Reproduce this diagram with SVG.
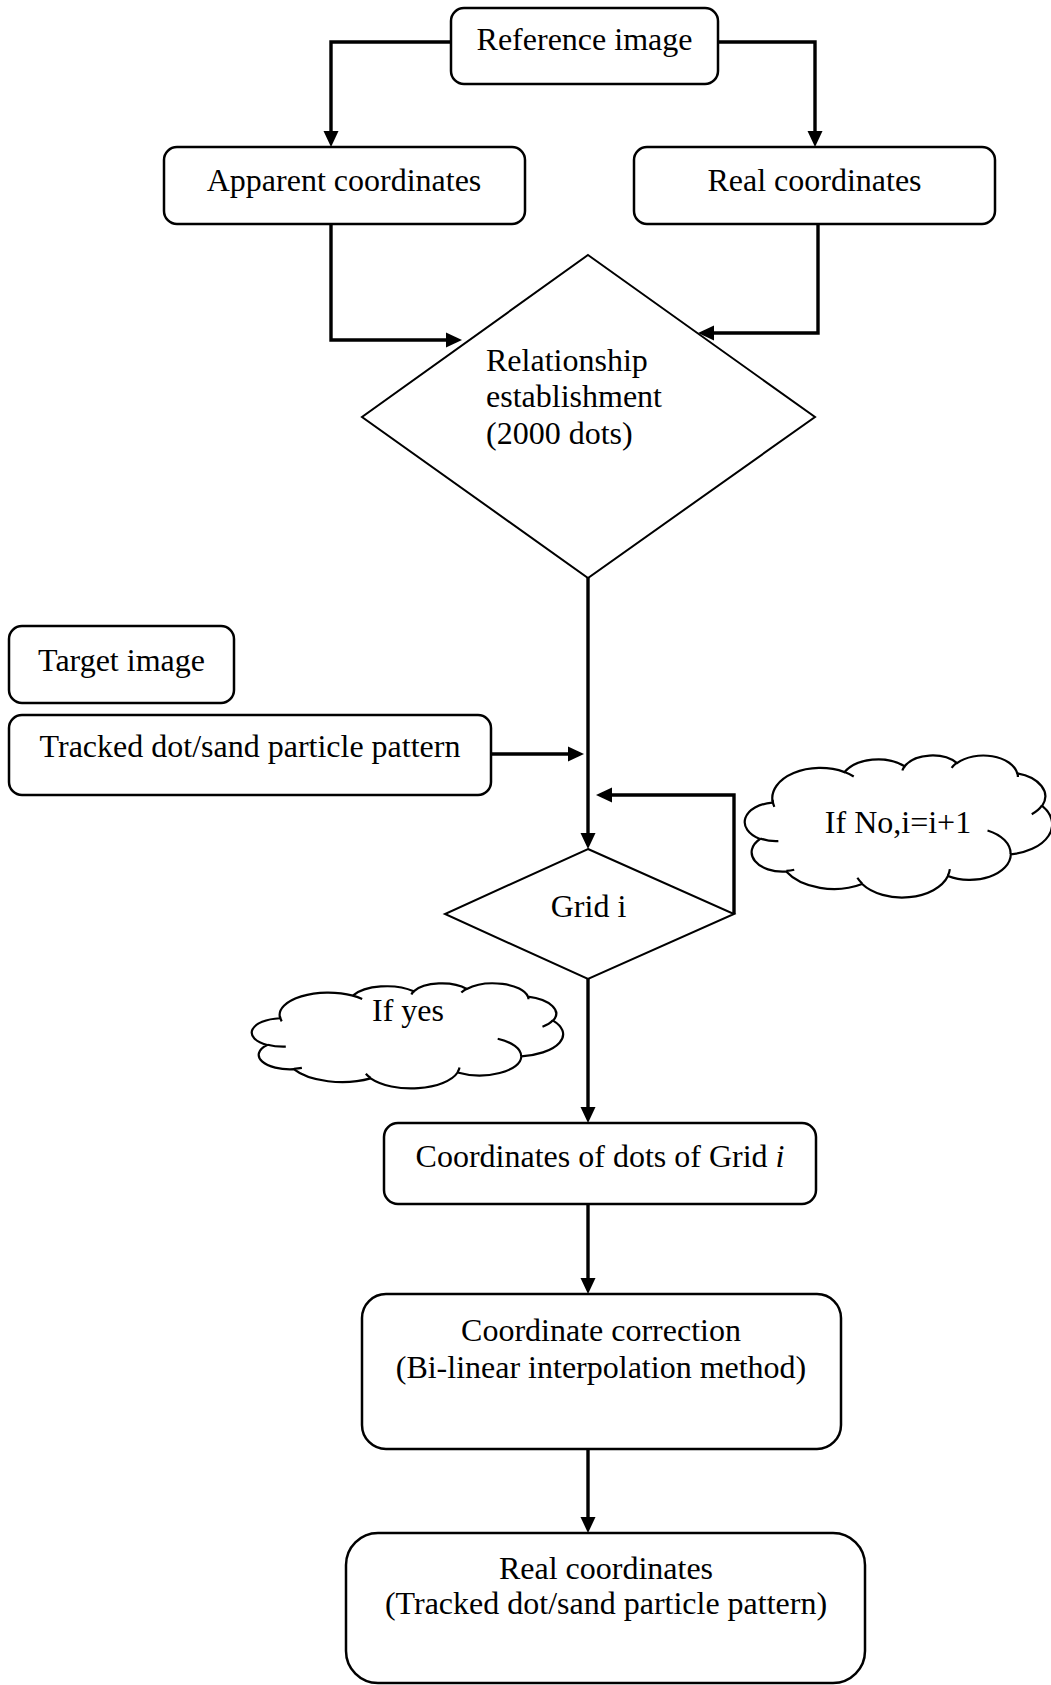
<svg xmlns="http://www.w3.org/2000/svg" width="1051" height="1685" viewBox="0 0 1051 1685">
  <style>
    .box { fill: #fff; stroke: #000; stroke-width: 2.5; }
    .dia { fill: #fff; stroke: #000; stroke-width: 2; }
    .cloud { fill: #fff; stroke: #000; stroke-width: 2.2; }
    .cloudline { fill: none; stroke: #000; stroke-width: 2.2; }
    .conn { fill: none; stroke: #000; stroke-width: 3.4; marker-end: url(#arrow); }
    text { font-family: "Liberation Serif", "Times New Roman", serif; font-size: 32px; fill: #000; }
    .c { text-anchor: middle; }
  </style>
  <defs>
    <marker id="arrow" viewBox="0 0 16 16" refX="7" refY="8" markerWidth="16" markerHeight="16" markerUnits="userSpaceOnUse" orient="auto">
      <path d="M0,0.5 L16,8 L0,15.5 Z" fill="#000"/>
    </marker>
  </defs>

  <rect width="1051" height="1685" fill="#fff"/>

  <g id="connectors">
    <path class="conn" d="M451 42 H331 V138"/>
    <path class="conn" d="M718 42 H815 V138"/>
    <path class="conn" d="M331 224 V340 H453"/>
    <path class="conn" d="M818 224 V333 H707"/>
    <path class="conn" d="M588 578 V840"/>
    <path class="conn" d="M491 754 H575"/>
    <path class="conn" d="M734 914 V795 H605"/>
    <path class="conn" d="M588 979 V1114"/>
    <path class="conn" d="M588 1204 V1285"/>
    <path class="conn" d="M588 1449 V1524"/>
  </g>

  <g id="reference-image">
    <rect class="box" x="451" y="8" width="267" height="76" rx="13"/>
    <text class="c" x="584.5" y="50">Reference image</text>
  </g>

  <g id="apparent-coordinates">
    <rect class="box" x="164" y="147" width="361" height="77" rx="13"/>
    <text class="c" x="344" y="191">Apparent coordinates</text>
  </g>

  <g id="real-coordinates">
    <rect class="box" x="634" y="147" width="361" height="77" rx="13"/>
    <text class="c" x="814.5" y="191">Real coordinates</text>
  </g>

  <g id="relationship">
    <polygon class="dia" points="588,255 815,417 588,578 362,417"/>
    <text x="486" y="370.5">Relationship</text>
    <text x="486" y="407">establishment</text>
    <text x="486" y="443.5">(2000 dots)</text>
  </g>

  <g id="target-image">
    <rect class="box" x="9" y="626" width="225" height="77" rx="13"/>
    <text class="c" x="121.5" y="670.5">Target image</text>
  </g>

  <g id="tracked-pattern">
    <rect class="box" x="9" y="715" width="482" height="80" rx="13"/>
    <text class="c" x="250" y="756.5">Tracked dot/sand particle pattern</text>
  </g>

  <g id="grid-i">
    <polygon class="dia" points="588,849 734,914 588,979 445,914"/>
    <text class="c" x="588.5" y="917">Grid i</text>
  </g>

  <g id="if-no">
    <path class="cloud" d="M772.72 802.23 A47.99 30.21 0 0 1 844.53 772.10 A37.90 23.89 0 0 1 904.60 766.29 A31.02 19.54 0 0 1 957.02 763.16 A34.52 21.68 0 0 1 1017.32 773.34 A37.90 23.91 0 0 1 1042.19 805.83 A48.15 30.31 0 0 1 1010.82 854.29 A41.11 25.86 0 0 1 947.94 876.02 A47.98 30.29 0 0 1 862.12 884.06 A54.86 34.66 0 0 1 786.23 871.58 A30.98 19.45 0 0 1 760.00 838.97 A30.88 19.54 0 0 1 772.44 802.67 Z"/>
    <path class="cloudline" d="M778.35 841.04 A30.88 19.54 0 0 1 760.35 838.42 M794.23 869.71 A30.98 19.45 0 0 1 786.36 870.97 M862.10 883.49 A47.98 30.29 0 0 1 857.38 877.78 M949.86 869.23 A47.98 30.29 0 0 1 947.96 875.50 M987.54 830.45 A41.11 25.86 0 0 1 1010.64 853.91 M1042.04 805.47 A37.90 23.91 0 0 1 1031.75 814.27 M1017.35 772.84 A34.52 21.68 0 0 1 1017.89 776.99 M951.64 767.99 A34.52 21.68 0 0 1 956.92 762.69 M902.35 770.51 A31.02 19.54 0 0 1 904.90 765.95 M844.49 772.07 A47.99 30.21 0 0 1 853.74 776.51 M774.33 806.90 A47.99 30.21 0 0 1 772.58 799.79"/>
    <text class="c" x="898" y="833">If No,i=i+1</text>
  </g>

  <g id="if-yes">
    <path class="cloud" d="M280.08 1017.93 A48.62 22.34 0 0 1 352.82 995.64 A38.39 17.66 0 0 1 413.68 991.35 A31.42 14.45 0 0 1 466.78 989.04 A34.97 16.03 0 0 1 527.87 996.56 A38.39 17.68 0 0 1 553.06 1020.59 A48.77 22.41 0 0 1 521.29 1056.42 A41.65 19.12 0 0 1 457.58 1072.49 A48.61 22.40 0 0 1 370.64 1078.43 A55.58 25.63 0 0 1 293.77 1069.21 A31.39 14.38 0 0 1 267.20 1045.09 A31.28 14.45 0 0 1 279.80 1018.25 Z"/>
    <path class="cloudline" d="M285.79 1046.63 A31.28 14.45 0 0 1 267.55 1044.69 M301.88 1067.83 A31.39 14.38 0 0 1 293.90 1068.75 M370.63 1078.01 A48.61 22.40 0 0 1 365.84 1073.79 M459.53 1067.47 A48.61 22.40 0 0 1 457.61 1072.11 M497.70 1038.79 A41.65 19.12 0 0 1 521.10 1056.14 M552.91 1020.32 A38.39 17.68 0 0 1 542.48 1026.83 M527.90 996.19 A34.97 16.03 0 0 1 528.45 999.26 M461.34 992.61 A34.97 16.03 0 0 1 466.68 988.68 M411.39 994.47 A31.42 14.45 0 0 1 413.98 991.09 M352.79 995.62 A48.62 22.34 0 0 1 362.16 998.90 M281.71 1021.38 A48.62 22.34 0 0 1 279.94 1016.12"/>
    <text class="c" x="408" y="1020.5">If yes</text>
  </g>

  <g id="grid-dots">
    <rect class="box" x="384" y="1123" width="432" height="81" rx="14"/>
    <text class="c" x="600" y="1167">Coordinates of dots of Grid <tspan font-style="italic">i</tspan></text>
  </g>

  <g id="coordinate-correction">
    <rect class="box" x="362" y="1294" width="479" height="155" rx="24"/>
    <text class="c" x="601" y="1341">Coordinate correction</text>
    <text class="c" x="601" y="1378">(Bi-linear interpolation method)</text>
  </g>

  <g id="real-coordinates-result">
    <rect class="box" x="346" y="1533" width="519" height="150" rx="32"/>
    <text class="c" x="606" y="1579">Real coordinates</text>
    <text class="c" x="606" y="1614">(Tracked dot/sand particle pattern)</text>
  </g>
</svg>
